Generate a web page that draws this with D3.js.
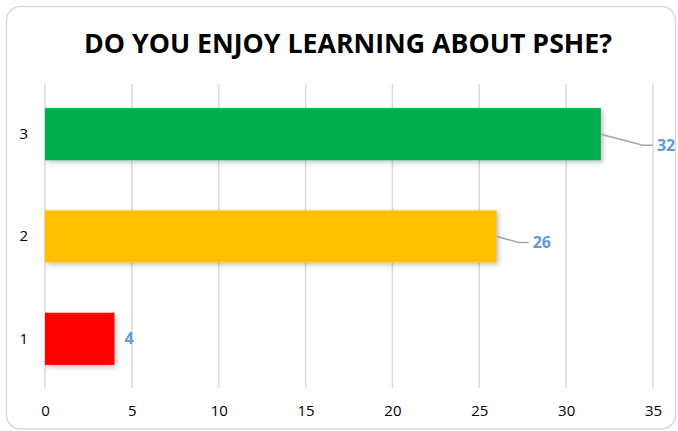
<!DOCTYPE html>
<meta charset="utf-8">
<style>
body { margin: 0; background: #fff; }
svg text { font-family: "Open Sans", "Noto Sans", sans-serif; }
.axis path, .axis line { display: none; }
.grid line { stroke: #d9d9d9; stroke-width: 1.5; }
</style>
<body>
<script src="https://d3js.org/d3.v7.min.js"></script>
<script>

var categories = ["3", "2", "1"];
var values = [32, 26, 4];
var colors = ["#00b050", "#ffc000", "#ff0000"];
var xTicks = [0, 5, 10, 15, 20, 25, 30, 35];

var W = 678, H = 431;
var margin = {top: 83, right: 25, bottom: 43, left: 45};
var w = W - margin.left - margin.right,
    h = H - margin.top - margin.bottom;

var svg = d3.select("body").append("svg")
    .attr("width", W)
    .attr("height", H);

var defs = svg.append("defs");
var f = defs.append("filter").attr("id", "shadow")
    .attr("x", "-10%").attr("y", "-20%").attr("width", "130%").attr("height", "150%");
f.append("feDropShadow").attr("dx", 2).attr("dy", 2).attr("stdDeviation", 2.5)
    .attr("flood-color", "#000").attr("flood-opacity", 0.25);

// chart border
svg.append("rect")
    .attr("x", 6.5).attr("y", 6.5)
    .attr("width", W - 9).attr("height", H - 8.5)
    .attr("rx", 14)
    .attr("fill", "#fff")
    .attr("stroke", "#d9d9d9")
    .attr("stroke-width", 1.5);

svg.append("text")
    .attr("x", 348)
    .attr("y", 53)
    .attr("text-anchor", "middle")
    .style("font-size", "27px")
    .style("font-weight", "bold")
    .attr("textLength", 528)
    .attr("lengthAdjust", "spacingAndGlyphs")
    .attr("fill", "#000")
    .text("DO YOU ENJOY LEARNING ABOUT PSHE?");

var g = svg.append("g")
    .attr("transform", "translate(" + margin.left + "," + margin.top + ")");

var x = d3.scaleLinear().domain([0, 35]).range([0, 608]);
var y = d3.scaleBand().domain(categories).range([0, h + 2]).paddingInner(0.49).paddingOuter(0.245);

g.append("g")
    .attr("class", "grid")
    .selectAll("line")
    .data(xTicks)
  .enter().append("line")
    .attr("x1", function(d) { return x(d); })
    .attr("x2", function(d) { return x(d); })
    .attr("y1", 1)
    .attr("y2", h);

g.append("g")
    .attr("class", "x axis")
    .attr("transform", "translate(0," + h + ")")
    .call(d3.axisBottom(x).tickValues(xTicks).tickSize(0).tickPadding(17))
    .selectAll("text")
    .style("font-size", "15px")
    .attr("fill", "#000");

g.append("g")
    .attr("class", "y axis")
    .call(d3.axisLeft(y).tickSize(0).tickPadding(17))
    .selectAll("text")
    .style("font-size", "15px")
    .attr("fill", "#000");

var data = categories.map(function(c, i) { return {cat: c, val: values[i], color: colors[i]}; });

g.selectAll(".bar")
    .data(data)
  .enter().append("rect")
    .attr("class", "bar")
    .attr("x", x(0))
    .attr("y", function(d) { return y(d.cat); })
    .attr("width", function(d) { return x(d.val) - x(0); })
    .attr("height", y.bandwidth())
    .attr("fill", function(d) { return d.color; })
    .attr("filter", "url(#shadow)");

// data labels with leader lines
var labelOffset = {"3": {dx: 52, dy: 11}, "2": {dx: 32, dy: 6}, "1": {dx: 0, dy: 0}};

data.forEach(function(d) {
  var bx = x(d.val), by = y(d.cat) + y.bandwidth() / 2;
  var o = labelOffset[d.cat];
  if (o.dx > 0) {
    g.append("polyline")
      .attr("points", [[bx, by], [bx + o.dx - 10, by + o.dy], [bx + o.dx, by + o.dy]].map(function(p) { return p.join(","); }).join(" "))
      .attr("fill", "none")
      .attr("stroke", "#a6a6a6")
      .attr("stroke-width", 1.5);
  }
  g.append("text")
    .attr("x", bx + o.dx + (o.dx > 0 ? 4 : 10))
    .attr("y", by + o.dy)
    .attr("dy", "0.35em")
    .style("font-size", "16px")
    .style("font-weight", "bold")
    .attr("fill", "#5b9bd5")
    .text(d.val);
});

</script>
</body>
